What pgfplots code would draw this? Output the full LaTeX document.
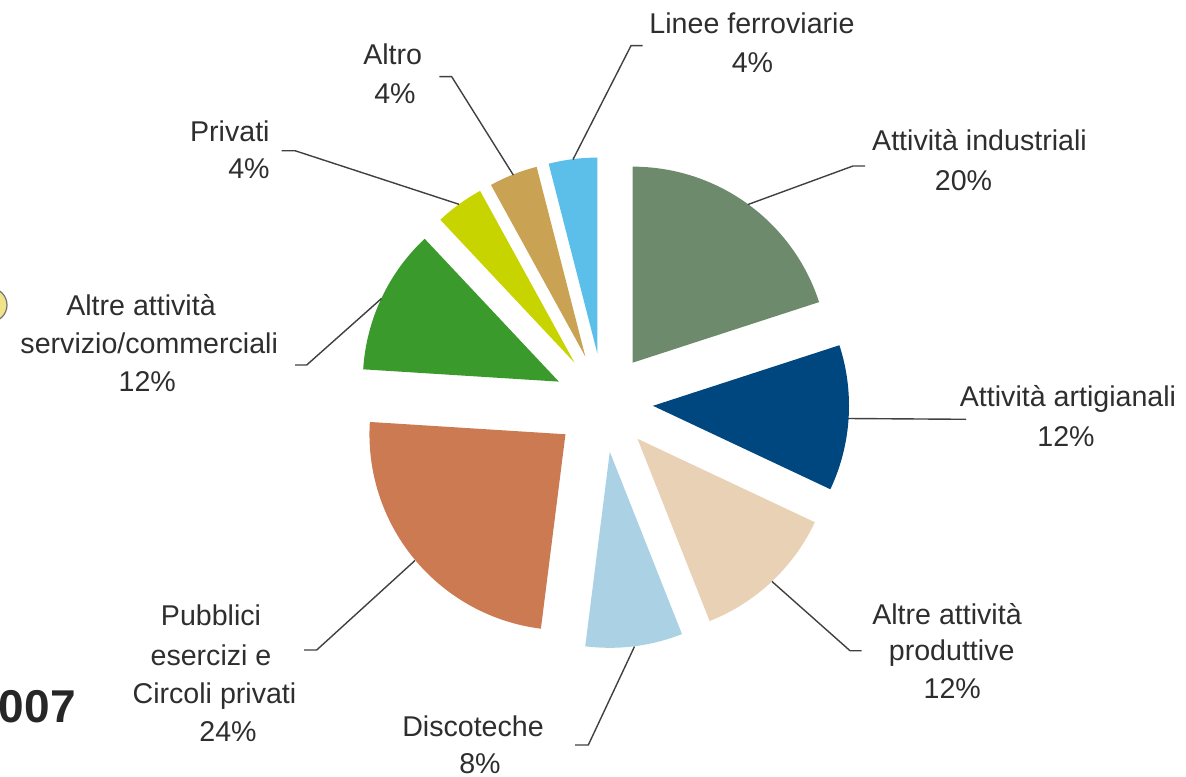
\documentclass[border=0pt]{standalone}
\usepackage{pgfplots}
\pgfplotsset{compat=1.18}
\usepackage{fontspec}
\setmainfont{Liberation Sans}
\definecolor{cInd}{HTML}{6E8A6C}
\definecolor{cArt}{HTML}{00477F}
\definecolor{cPro}{HTML}{E8D1B5}
\definecolor{cDis}{HTML}{ABD1E5}
\definecolor{cPub}{HTML}{CC7A52}
\definecolor{cSer}{HTML}{3A9A2B}
\definecolor{cPri}{HTML}{C8D400}
\definecolor{cAlt}{HTML}{C9A253}
\definecolor{cLin}{HTML}{5BBFEA}
\definecolor{txt}{HTML}{2E2E2E}
\definecolor{blob}{HTML}{F0E38A}
\tikzset{
  lbl/.style={font=\fontsize{14.3bp}{17bp}\selectfont, text=txt, inner sep=0pt},
  lead/.style={draw=black!75, line width=0.7bp}}

% pie geometry (image pixel units)
\def\cx{603.6}\def\cy{402.7}\def\R{196}\def\D{49.5}
\gdef\cum{0}
% \slice{percentage}{colour}: wedges clockwise from 12 o'clock, each exploded by \D
\newcommand\slice[2]{%
  \pgfmathsetmacro\sA{90-3.6*\cum}%
  \pgfmathsetmacro\sB{90-3.6*(\cum+#1)}%
  \pgfmathsetmacro\sM{(\sA+\sB)/2}%
  \pgfmathsetmacro\ox{\cx+\D*cos(\sM)}%
  \pgfmathsetmacro\oy{\cy-\D*sin(\sM)}%
  \pgfmathsetmacro\lo{\sB-2}%
  \pgfmathsetmacro\hi{\sA+2}%
  \edef\doslice{\noexpand\addplot[fill=#2, draw=none, domain=\lo:\hi, samples=300, variable=\noexpand\t]
    ({\ox+(\noexpand\t>=\sB-1)*(\noexpand\t<=\sA+1)*\R*cos(min(max(\noexpand\t,\sB),\sA))},
     {\oy-(\noexpand\t>=\sB-1)*(\noexpand\t<=\sA+1)*\R*sin(min(max(\noexpand\t,\sB),\sA))});}%
  \doslice
  \pgfmathsetmacro\newcum{\cum+#1}\xdef\cum{\newcum}%
}

\begin{document}
\begin{tikzpicture}
\useasboundingbox (0,0) rectangle (593bp,388.5bp);
\clip (0,0) rectangle (593bp,388.5bp);
\begin{axis}[at={(0,0)}, anchor=south west,
  width=593bp, height=388.5bp, scale only axis,
  xmin=0, xmax=1186, ymin=0, ymax=777, y dir=reverse,
  hide axis, clip=false]

\slice{20}{cInd}% Attivita industriali
\slice{12}{cArt}% Attivita artigianali
\slice{12}{cPro}% Altre attivita produttive
\slice{8}{cDis}% Discoteche
\slice{24}{cPub}% Pubblici esercizi e Circoli privati
\slice{12}{cSer}% Altre attivita servizio/commerciali
\slice{4}{cPri}% Privati
\slice{4}{cAlt}% Altro
\slice{4}{cLin}% Linee ferroviarie

% leader lines
\addplot[lead, no markers] coordinates {(642.7,45.7) (631,45.7) (573,159.5)};
\addplot[lead, no markers] coordinates {(865,166) (853,166) (748,204.5)};
\addplot[lead, no markers] coordinates {(848,418.5) (966,419.3)};
\addplot[lead, no markers] coordinates {(861.7,650.7) (850,650.7) (772,581.5)};
\addplot[lead, no markers] coordinates {(575,745) (588.3,745) (634.5,646.5)};
\addplot[lead, no markers] coordinates {(304,650) (316.7,650) (415,560.5)};
\addplot[lead, no markers] coordinates {(295,365) (306.7,365) (381.5,298.5)};
\addplot[lead, no markers] coordinates {(281.7,150.7) (295,150.7) (459,204.3)};
\addplot[lead, no markers] coordinates {(439.3,76.7) (451.7,76.7) (513.3,175)};

% labels
\node[lbl, anchor=base] at (axis cs:752,34) {Linee ferroviarie};
\node[lbl, anchor=base] at (axis cs:752.5,73) {4\%};
\node[lbl, anchor=base] at (axis cs:979.5,150) {Attività industriali};
\node[lbl, anchor=base] at (axis cs:963.5,190) {20\%};
\node[lbl, anchor=base] at (axis cs:1068,406.7) {Attività artigianali};
\node[lbl, anchor=base] at (axis cs:1066,446) {12\%};
\node[lbl, anchor=base] at (axis cs:947,624) {Altre attività};
\node[lbl, anchor=base] at (axis cs:951.7,660) {produttive};
\node[lbl, anchor=base] at (axis cs:952.3,698) {12\%};
\node[lbl, anchor=base] at (axis cs:473,736.7) {Discoteche};
\node[lbl, anchor=base] at (axis cs:480,773) {8\%};
\node[lbl, anchor=base] at (axis cs:211,625) {Pubblici};
\node[lbl, anchor=base] at (axis cs:211,665) {esercizi e};
\node[lbl, anchor=base] at (axis cs:214.5,703) {Circoli privati};
\node[lbl, anchor=base] at (axis cs:228,741.7) {24\%};
\node[lbl, anchor=base] at (axis cs:141,315) {Altre attività};
\node[lbl, anchor=base] at (axis cs:149.2,353.3) {servizio/commerciali};
\node[lbl, anchor=base] at (axis cs:147.3,391.7) {12\%};
\node[lbl, anchor=base east] at (axis cs:270,141.7) {Privati};
\node[lbl, anchor=base east] at (axis cs:270,178.3) {4\%};
\node[lbl, anchor=base] at (axis cs:392.7,65) {Altro};
\node[lbl, anchor=base] at (axis cs:395,104) {4\%};

% elements at the left border (partly cut off in the reference)
\node[anchor=base east, inner sep=0pt, text=black!85,
  font=\fontsize{23bp}{26bp}\selectfont\bfseries] at (axis cs:76,722) {007};
\filldraw[fill=blob, draw=black!55, line width=0.6bp] (axis cs:-10,305) circle[radius=8.5bp];
\end{axis}
\end{tikzpicture}
\end{document}
